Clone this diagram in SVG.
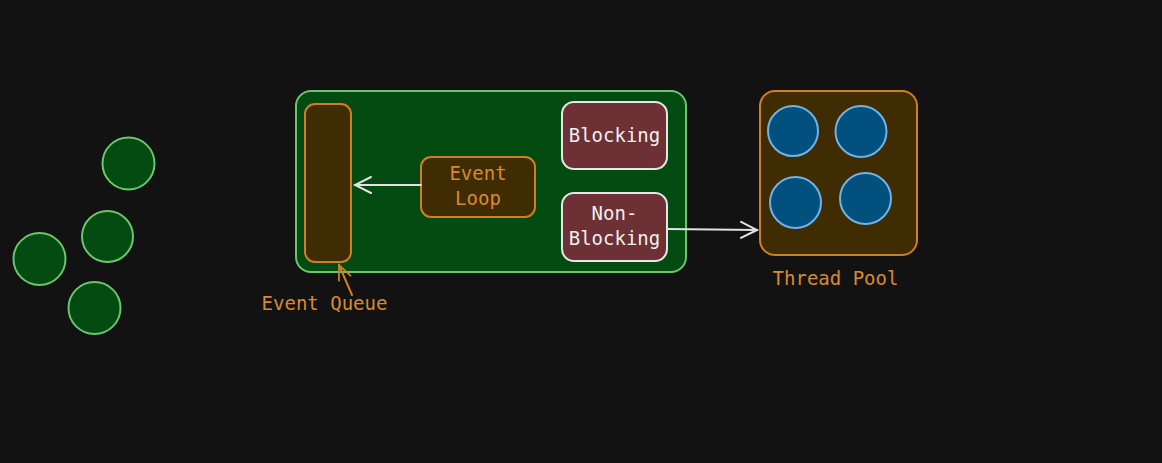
<svg xmlns="http://www.w3.org/2000/svg" width="1162" height="463" viewBox="0 0 1162 463">
<defs>
<style>
.green{fill:#034b10;stroke:#6cc46c;stroke-width:2}
.orange{fill:#3f2c02;stroke:#cf7f22;stroke-width:2}
.red{fill:#6c3035;stroke:#e6e6e6;stroke-width:2}
.blue{fill:#02507e;stroke:#72b2e6;stroke-width:2}
.t{font-family:"DejaVu Sans Mono","Liberation Mono",monospace;font-size:19px;text-anchor:middle}
.to{fill:#d98a2c}
.tw{fill:#efefef}
.cw{fill:none;stroke:#e2e2e2;stroke-width:2;stroke-linecap:round;stroke-linejoin:round}
.co{fill:none;stroke:#cf7f22;stroke-width:2;stroke-linecap:round;stroke-linejoin:round}
</style>
<marker id="aw" viewBox="0 0 20 20" refX="18" refY="10" markerWidth="20" markerHeight="20" markerUnits="userSpaceOnUse" orient="auto">
<path d="M2,2 L18,10 L2,18" fill="none" stroke="#e2e2e2" stroke-width="2" stroke-linecap="round"/>
</marker>
<marker id="ao" viewBox="0 0 20 20" refX="18" refY="10" markerWidth="18" markerHeight="18" markerUnits="userSpaceOnUse" orient="auto">
<path d="M2,3 L18,10 L2,17" fill="none" stroke="#cf7f22" stroke-width="2" stroke-linecap="round"/>
</marker>
</defs>
<rect width="1162" height="463" fill="#121212"/>

<g id="clients">
<circle class="green" cx="128.5" cy="163.5" r="26"/>
<circle class="green" cx="107.5" cy="236.5" r="25.5"/>
<circle class="green" cx="39.5" cy="259" r="26"/>
<circle class="green" cx="94.5" cy="308" r="26"/>
</g>

<g id="server">
<rect class="green" x="296" y="91" width="390" height="181" rx="15"/>
</g>

<g id="event-queue">
<rect class="orange" x="305" y="104" width="46" height="158" rx="10"/>
<text class="t to" x="324.5" y="310">Event Queue</text>
</g>

<g id="event-loop">
<rect class="orange" x="421" y="157" width="114" height="60" rx="10"/>
<text class="t to" x="478" y="180">Event</text>
<text class="t to" x="478" y="205">Loop</text>
</g>

<g id="blocking">
<rect class="red" x="562" y="102" width="105" height="67" rx="12"/>
<text class="t tw" x="614.5" y="142">Blocking</text>
</g>

<g id="non-blocking">
<rect class="red" x="562" y="193" width="105" height="68" rx="12"/>
<text class="t tw" x="614.5" y="220">Non-</text>
<text class="t tw" x="614.5" y="245">Blocking</text>
</g>

<g id="thread-pool">
<rect class="orange" x="760" y="91" width="157" height="164" rx="15"/>
<circle class="blue" cx="793" cy="131" r="25"/>
<circle class="blue" cx="861" cy="131.5" r="25.5"/>
<circle class="blue" cx="795.5" cy="202.5" r="25.5"/>
<circle class="blue" cx="865.5" cy="198.5" r="25.5"/>
<text class="t to" x="835.5" y="285">Thread Pool</text>
</g>

<g id="connectors">
<path class="cw" d="M421,185 L355,185" marker-end="url(#aw)"/>
<path class="cw" d="M667,229 L757,230" marker-end="url(#aw)"/>
<path class="co" d="M352,295 L339,265" marker-end="url(#ao)"/>
</g>
</svg>
